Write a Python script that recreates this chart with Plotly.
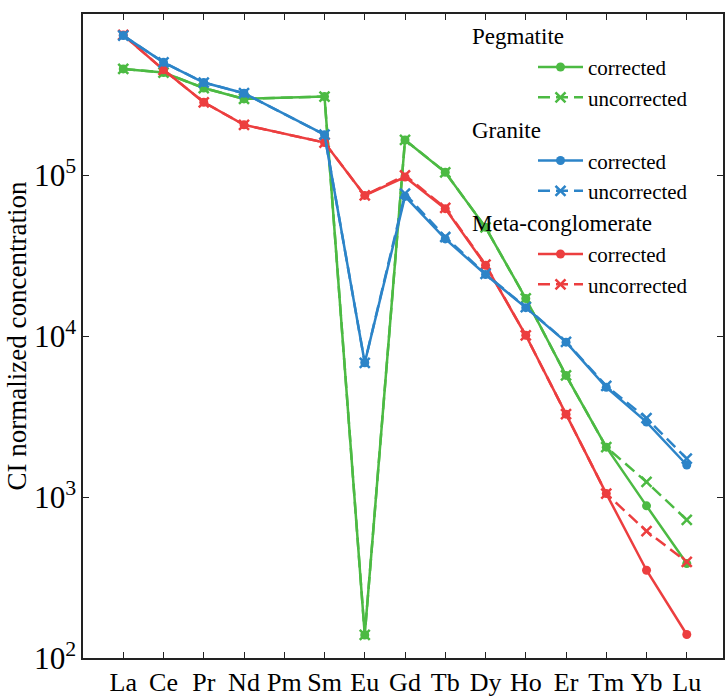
import plotly.graph_objects as go

elements = ["La", "Ce", "Pr", "Nd", "Pm", "Sm", "Eu", "Gd", "Tb", "Dy", "Ho", "Er", "Tm", "Yb", "Lu"]

peg_corr = [4.56e5, 4.33e5, 3.47e5, 2.97e5, None, 3.07e5, 139, 1.65e5, 1.04e5, 4.73e4, 1.71e4, 5.69e3, 2.04e3, 881, 386]
peg_unc = [4.56e5, 4.33e5, 3.47e5, 2.97e5, None, 3.07e5, 139, 1.65e5, 1.04e5, 4.73e4, 1.71e4, 5.69e3, 2.04e3, 1.24e3, 721]

gra_corr = [7.34e5, 5.01e5, 3.75e5, 3.22e5, None, 1.78e5, 6.82e3, 7.36e4, 4.01e4, 2.41e4, 1.50e4, 9.16e3, 4.80e3, 2.92e3, 1.58e3]
gra_unc = [7.34e5, 5.01e5, 3.75e5, 3.22e5, None, 1.78e5, 6.82e3, 7.65e4, 4.12e4, 2.43e4, 1.51e4, 9.20e3, 4.90e3, 3.09e3, 1.73e3]

met_corr = [7.41e5, 4.50e5, 2.83e5, 2.05e5, None, 1.59e5, 7.47e4, 9.71e4, 6.18e4, 2.75e4, 1.01e4, 3.27e3, 1.05e3, 351, 140]
met_unc = [7.41e5, 4.50e5, 2.83e5, 2.05e5, None, 1.59e5, 7.47e4, 9.95e4, 6.25e4, 2.78e4, 1.01e4, 3.27e3, 1.05e3, 613, 396]

GREEN = "#4cba43"
BLUE = "#2c84c8"
RED = "#ec3e3f"
SERIF = "Liberation Serif, Times New Roman, Times, serif"

x = list(range(len(elements)))

fig = go.Figure()

def add(vals, color, name, group, title, dashed, rank):
    fig.add_trace(go.Scatter(
        x=x, y=vals, mode="lines+markers", connectgaps=True,
        name=name, legendgroup=group, legendrank=rank,
        legendgrouptitle=dict(text=title, font=dict(size=23, family=SERIF, color="black")),
        line=dict(color=color, width=2.5, dash="12px,6px" if dashed else "solid"),
        marker=dict(color=color, size=10 if dashed else 9,
                    symbol="x-thin" if dashed else "circle",
                    line=dict(color=color, width=2.5) if dashed else dict(width=0)),
    ))

add(peg_unc, GREEN, "uncorrected", "peg", "Pegmatite", True, 2)
add(peg_corr, GREEN, "corrected", "peg", "Pegmatite", False, 1)
add(met_unc, RED, "uncorrected", "met", "Meta-conglomerate", True, 6)
add(met_corr, RED, "corrected", "met", "Meta-conglomerate", False, 5)
add(gra_unc, BLUE, "uncorrected", "gra", "Granite", True, 4)
add(gra_corr, BLUE, "corrected", "gra", "Granite", False, 3)

fig.update_layout(
    width=726, height=698,
    margin=dict(l=83, r=1, t=14, b=39),
    paper_bgcolor="white", plot_bgcolor="white",
    font=dict(family=SERIF, size=24, color="black"),
    showlegend=True,
    legend=dict(x=0.6, y=1.0, xanchor="left", yanchor="top",
                bgcolor="rgba(0,0,0,0)", font=dict(size=21, family=SERIF),
                tracegroupgap=0, indentation=66, itemwidth=45),
)
fig.update_xaxes(
    tickmode="array", tickvals=x, ticktext=elements, range=[-1, 14.9],
    showline=True, linecolor="#222", linewidth=1.5, mirror="ticks",
    ticks="inside", ticklen=6, tickcolor="#222", tickwidth=1.2,
    showgrid=False, zeroline=False, tickfont=dict(size=26, family=SERIF),
)
fig.update_yaxes(
    type="log", range=[2, 6], dtick=1, exponentformat="power",
    showline=True, linecolor="#222", linewidth=1.5, mirror="ticks",
    ticks="inside", ticklen=6, tickcolor="#222", tickwidth=1.2,
    showgrid=False, zeroline=False, tickfont=dict(size=25, family=SERIF),
    title=dict(text="CI normalized concentration", font=dict(size=27, family=SERIF), standoff=0),
)

fig.write_html("out.html")
